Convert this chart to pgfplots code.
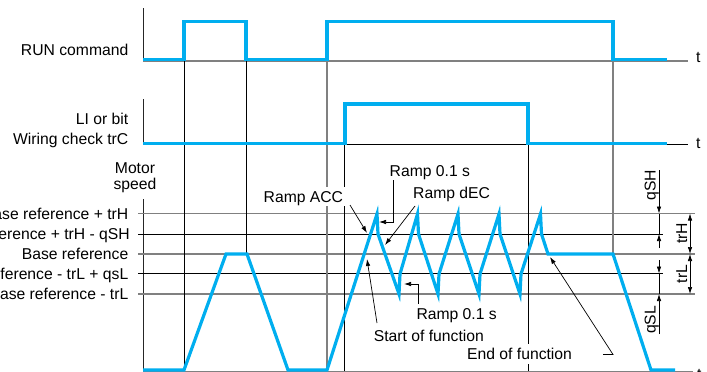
\documentclass[border=0pt]{standalone}
\usepackage{pgfplots}
\pgfplotsset{compat=1.18}
\usepackage{fontspec}
\setmainfont{Liberation Sans}
\usetikzlibrary{arrows.meta}
\definecolor{sig}{RGB}{0,174,239}
\definecolor{gl}{RGB}{128,128,128}
\begin{document}
\begin{tikzpicture}[
  lbl/.style={inner sep=0pt, text height=11.2pt, text depth=0pt, font=\fontsize{15.7}{18}\selectfont},
  wlbl/.style={lbl, fill=white, inner xsep=3pt, inner ysep=4pt},
  arr/.style={black, line width=0.7pt, -{Latex[length=7pt,width=4.5pt]}},
  darr/.style={black, line width=0.7pt, {Latex[length=7pt,width=4.5pt]}-{Latex[length=7pt,width=4.5pt]}},
]
\begin{axis}[at={(0,0)}, anchor=south west, scale only axis, width=707pt, height=372pt,
  xmin=0, xmax=707, ymin=0, ymax=372, y dir=reverse, axis lines=none, clip=false]
% ---- axes of the three traces
\addplot[black!85, line width=1pt] coordinates {(143,8) (143,61)};
\addplot[black!85, line width=1pt] coordinates {(143,99) (143,144.5)};
\addplot[black!85, line width=1pt] coordinates {(143,199) (143,371)};
% baselines
\addplot[gl, line width=1.3pt] coordinates {(143,61) (688,61)};
\addplot[black, line width=1pt] coordinates {(143,144.5) (688,144.5)};
\addplot[gl, line width=1.3pt] coordinates {(143,371.5) (693,371.5)};
% reference levels
\addplot[gl, line width=1.3pt] coordinates {(138,213.5) (695,213.5)};
\addplot[black, line width=1pt] coordinates {(138,234) (663,234)};
\addplot[gl, line width=1.3pt] coordinates {(138,254) (695,254)};
\addplot[black, line width=1pt] coordinates {(138,273.5) (663,273.5)};
\addplot[gl, line width=1.3pt] coordinates {(138,294) (695,294)};
% vertical time markers
\addplot[black, line width=1pt] coordinates {(184,61) (184,371)};
\addplot[black, line width=1pt] coordinates {(246,61) (246,254)};
\addplot[gl, line width=1.3pt] coordinates {(327,61) (327,371)};
\addplot[black, line width=1pt] coordinates {(344.5,144) (344.5,371)};
\addplot[black, line width=1pt] coordinates {(528.5,144) (528.5,371)};
\addplot[gl, line width=1.3pt] coordinates {(613,61) (613,254)};
% ---- signals
\addplot[sig, line width=3.2pt] coordinates {(143,59.5) (184,59.5) (184,21.5) (246,21.5) (246,59.5) (327,59.5) (327,21.5) (613,21.5) (613,59.5) (667,59.5)};
\addplot[sig, line width=3.2pt] coordinates {(143,143.5) (345,143.5) (345,104) (528,104) (528,143.5) (667,143.5)};
\addplot[sig, line width=3.2pt] coordinates {(143,370) (184,370) (226,254) (247,254) (288,370) (327,370)
  (377,214) (378,234) (399,294) (400,274)
  (417.5,214) (418.5,234) (438,294) (439,274)
  (458,214) (459,234) (479,294) (480,274)
  (499,214) (500,234) (520,294) (521,274)
  (540.5,214) (541.5,234) (548,254) (613,254) (651,370) (675,370)};
% ---- annotation leaders
\addplot[arr] coordinates {(350,205) (367,233)};
\addplot[arr] coordinates {(415,206) (385,245)};
\addplot[arr] coordinates {(393,179) (393,222) (379,222)};
\addplot[arr] coordinates {(377,323) (367,259)};
\addplot[arr] coordinates {(418,307) (418,284) (404,284)};
\addplot[arr] coordinates {(603,354.5) (613,354.5) (550,257)};
% ---- dimensions on the right
\addplot[arr] coordinates {(659,170) (659,213.5)};
\addplot[black, line width=0.7pt] coordinates {(659,213.5) (659,234)};
\addplot[arr] coordinates {(659,248) (659,234)};
\addplot[arr] coordinates {(659,260) (659,273.5)};
\addplot[black, line width=0.7pt] coordinates {(659,273.5) (659,294)};
\addplot[arr] coordinates {(659,334) (659,294)};
\addplot[darr] coordinates {(690,213.5) (690,254)};
\addplot[darr] coordinates {(690,254) (690,294)};
% ---- texts
\node[lbl, anchor=east] at (axis cs:128.5,50.2) {RUN command};
\node[lbl, anchor=east] at (axis cs:128.5,119.3) {LI or bit};
\node[lbl, anchor=east] at (axis cs:128.5,139) {Wiring check trC};
\node[lbl] at (axis cs:135,167.5) {Motor};
\node[lbl] at (axis cs:135,183.5) {speed};
\node[lbl, anchor=east] at (axis cs:128.5,213.5) {Base reference + trH};
\node[lbl, anchor=east] at (axis cs:130,234) {Base reference + trH - qSH};
\node[lbl, anchor=east] at (axis cs:128.5,254) {Base reference};
\node[lbl, anchor=east] at (axis cs:128.5,273.5) {Base reference - trL + qsL};
\node[lbl, anchor=east] at (axis cs:128.5,294) {Base reference - trL};
\node[lbl, anchor=base west] at (axis cs:696,62.5) {t};
\node[lbl, anchor=base west] at (axis cs:696,148.5) {t};
\node[lbl, anchor=base west] at (axis cs:697,379) {t};
\node[wlbl, anchor=west] at (axis cs:260.5,196.7) {Ramp ACC};
\node[wlbl, anchor=west] at (axis cs:386.5,170.8) {Ramp 0.1 s};
\node[wlbl, anchor=west] at (axis cs:410,193.3) {Ramp dEC};
\node[wlbl, anchor=west] at (axis cs:370.7,335.7) {Start of function};
\node[wlbl, anchor=west] at (axis cs:413.3,314) {Ramp 0.1 s};
\node[wlbl, anchor=west] at (axis cs:464,354) {End of function};
\node[lbl, rotate=90] at (axis cs:650,185) {qSH};
\node[lbl, rotate=90] at (axis cs:681.5,233.5) {trH};
\node[lbl, rotate=90] at (axis cs:681.5,274) {trL};
\node[lbl, rotate=90] at (axis cs:650,320) {qSL};
\end{axis}
\pgfresetboundingbox
\path[use as bounding box] (0,0) rectangle (707pt,372pt);
\end{tikzpicture}
\end{document}
